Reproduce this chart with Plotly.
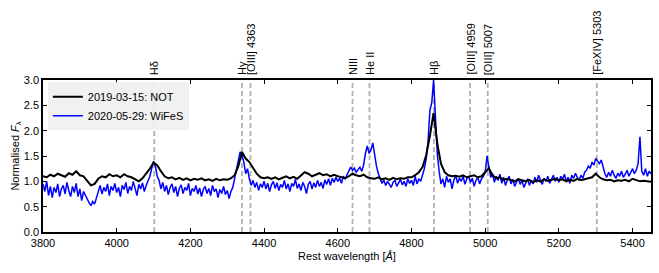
import plotly.graph_objects as go

# ---------------- data ----------------
# WiFeS spectrum (2020-05-29), sampled every 5 Å from 3800 Å
wifes_start = 3800
wifes_step = 5
wifes_flux = [
    0.95, 0.80, 1.00, 0.72, 0.90, 0.68, 0.88, 0.78, 0.95, 0.70,  # 3800
    0.85, 0.92, 0.75, 0.98, 0.82, 0.70, 0.90, 0.78, 0.96, 0.70,  # 3850
    0.85, 0.62, 0.80, 0.72, 0.65, 0.58, 0.52, 0.60, 0.55, 0.68,  # 3900
    0.80, 0.92, 0.75, 0.88, 0.80, 0.95, 0.72, 0.90, 0.82, 0.96,  # 3950
    0.78, 0.88, 0.70, 0.92, 0.84, 0.98, 0.76, 0.90, 0.82, 1.00,  # 4000
    0.86, 0.72, 0.94, 0.85, 0.97, 0.80, 0.92, 1.00, 1.10, 1.25,  # 4050
    1.40, 1.30, 1.10, 1.02, 0.85, 0.98, 0.80, 0.92, 0.74, 0.88,  # 4100
    0.95, 0.78, 0.90, 0.70, 0.86, 0.93, 0.76, 0.88, 0.82, 0.96,  # 4150
    0.72, 0.86, 0.80, 0.92, 0.75, 0.87, 0.70, 0.84, 0.90, 0.76,  # 4200
    0.86, 0.72, 0.92, 0.80, 0.85, 0.68, 0.84, 0.76, 0.90, 0.74,  # 4250
    0.82, 0.66, 0.80, 0.88, 1.05, 1.18, 1.40, 1.58, 1.52, 1.38,  # 4300
    1.15, 1.25, 1.05, 0.92, 1.02, 0.88, 0.98, 0.82, 0.95, 0.88,  # 4350
    1.00, 0.85, 0.96, 0.80, 0.93, 1.00, 0.86, 0.97, 0.82, 0.94,  # 4400
    0.88, 1.02, 0.85, 0.95, 0.80, 0.96, 0.90, 1.04, 0.86, 0.95,  # 4450
    0.82, 0.98, 0.90, 0.76, 0.94, 1.00, 0.85, 0.97, 0.88, 1.02,  # 4500
    0.90, 0.98, 0.86, 1.03, 0.94, 1.05, 0.92, 1.06, 0.98, 1.08,  # 4550
    1.00, 1.06, 0.96, 1.10, 1.05, 1.12, 1.20, 1.28, 1.22, 1.26,  # 4600
    1.18, 1.24, 1.28, 1.20, 1.32, 1.55, 1.70, 1.55, 1.62, 1.76,  # 4650
    1.50, 1.30, 1.15, 1.05, 0.96, 1.02, 0.92, 1.00, 0.95, 0.88,  # 4700
    0.98, 1.02, 0.90, 0.98, 1.04, 0.93, 1.00, 0.90, 1.05, 0.96,  # 4750
    1.02, 0.92, 1.10, 0.95, 1.05, 1.00, 1.12, 1.25, 1.45, 1.80,  # 4800
    2.40, 2.55, 3.00, 2.20, 1.55, 1.20, 0.95, 1.05, 0.88, 1.10,  # 4850
    0.98, 1.05, 0.85, 1.02, 1.12, 0.96, 1.06, 1.00, 1.10, 0.94,  # 4900
    1.05, 1.10, 0.98, 1.06, 0.90, 1.02, 1.08, 0.95, 1.05, 1.10,  # 4950
    1.18, 1.50, 1.25, 1.08, 1.15, 0.98, 1.10, 1.02, 1.14, 0.96,  # 5000
    1.08, 0.92, 1.02, 1.10, 0.95, 1.04, 0.90, 1.00, 1.06, 0.94,  # 5050
    1.02, 0.88, 0.98, 1.05, 0.92, 1.02, 0.95, 1.08, 0.98, 1.12,  # 5100
    1.02, 0.94, 1.06, 1.00, 1.10, 0.96, 1.04, 1.12, 1.00, 1.08,  # 5150
    0.98, 1.10, 1.04, 1.14, 1.00, 1.08, 0.96, 1.12, 1.06, 1.16,  # 5200
    1.08, 1.02, 1.12, 1.06, 1.18, 1.22, 1.30, 1.26, 1.38, 1.32,  # 5250
    1.45, 1.40, 1.35, 1.42, 1.25, 1.15, 1.08, 1.18, 1.10, 1.22,  # 5300
    1.12, 1.06, 1.16, 1.10, 1.20, 1.08, 1.14, 1.22, 1.10, 1.18,  # 5350
    1.25, 1.15, 1.22, 1.35, 1.88, 1.20, 1.12, 1.25, 1.10, 1.20,  # 5400
    1.15,                                                        # 5450
]

# NOT spectrum (2019-03-15), sampled every 10 Å from 3800 Å
not_start = 3800
not_step = 10
not_flux = [
    1.10, 1.08, 1.13, 1.10, 1.15, 1.12, 1.09, 1.16, 1.13, 1.20,  # 3800
    1.12, 1.10, 1.02, 0.92, 0.95, 1.05, 1.10, 1.08, 1.14, 1.10,  # 3900
    1.12, 1.08, 1.14, 1.10, 1.08, 1.04, 1.00, 1.06, 1.15, 1.25,  # 4000
    1.37, 1.32, 1.20, 1.10, 1.06, 1.08, 1.04, 1.07, 1.03, 1.06,  # 4100
    1.02, 1.05, 1.03, 1.06, 1.02, 1.04, 1.01, 1.05, 1.02, 1.04,  # 4200
    1.03, 1.06, 1.12, 1.30, 1.58, 1.45, 1.38, 1.25, 1.15, 1.08,  # 4300
    1.06, 1.08, 1.05, 1.08, 1.04, 1.07, 1.10, 1.06, 1.09, 1.05,  # 4400
    1.12, 1.18, 1.15, 1.10, 1.13, 1.16, 1.12, 1.14, 1.10, 1.13,  # 4500
    1.10, 1.08, 1.06, 1.10, 1.15, 1.12, 1.10, 1.13, 1.08, 1.06,  # 4600
    1.05, 1.08, 1.04, 1.06, 1.03, 1.07, 1.04, 1.06, 1.05, 1.08,  # 4700
    1.08, 1.12, 1.18, 1.28, 1.52, 1.90, 2.35, 1.75, 1.35, 1.18,  # 4800
    1.12, 1.10, 1.11, 1.09, 1.12, 1.08, 1.10, 1.12, 1.08, 1.10,  # 4900
    1.18, 1.26, 1.12, 1.06, 1.08, 1.03, 1.05, 1.02, 1.00, 1.04,  # 5000
    1.02, 1.00, 1.03, 0.98, 1.02, 1.00, 1.04, 1.01, 1.03, 1.05,  # 5100
    1.02, 1.04, 1.00, 1.03, 1.01, 1.05, 1.02, 1.04, 1.06, 1.08,  # 5200
    1.15, 1.08, 1.04, 1.02, 1.03, 1.00, 1.02, 1.01, 1.03, 1.00,  # 5300
    1.05, 1.02, 1.00, 1.01, 1.00, 0.99,                          # 5400
]

line_names = ["Hδ", "Hγ", "[OIII] 4363", "NIII", "He II", "Hβ",
              "[OIII] 4959", "[OIII] 5007", "[FeXIV] 5303"]
line_waves = [4102, 4340, 4363, 4640, 4686, 4861, 4959, 5007, 5303]

x_ticks = [3800, 4000, 4200, 4400, 4600, 4800, 5000, 5200, 5400]
y_ticks = [0.0, 0.5, 1.0, 1.5, 2.0, 2.5, 3.0]

wifes_wave = [wifes_start + wifes_step * i for i in range(len(wifes_flux))]
not_wave = [not_start + not_step * i for i in range(len(not_flux))]

FONT = "Liberation Sans, Arial, sans-serif"

fig = go.Figure()
fig.add_trace(go.Scatter(x=wifes_wave, y=wifes_flux, mode="lines",
                         name="2020-05-29: WiFeS", legendrank=2,
                         line=dict(color="#0000ff", width=1.5)))
fig.add_trace(go.Scatter(x=not_wave, y=not_flux, mode="lines",
                         name="2019-03-15: NOT", legendrank=1,
                         line=dict(color="#000000", width=2)))

for name, w in zip(line_names, line_waves):
    fig.add_shape(type="line", x0=w, x1=w, xref="x", y0=0, y1=1,
                  yref="y domain", layer="below",
                  line=dict(color="#b0b0b0", width=1.8, dash="5px,3px"))
    fig.add_annotation(x=w, xref="x", y=1, yref="y domain", text=name,
                       textangle=-90, showarrow=False, xanchor="center",
                       yanchor="bottom", yshift=3,
                       font=dict(family=FONT, size=11, color="black"))

fig.update_layout(
    width=659, height=273,
    margin=dict(l=43, r=8, t=80, b=41, autoexpand=False),
    paper_bgcolor="white", plot_bgcolor="white",
    font=dict(family=FONT, size=11, color="black"),
    showlegend=True,
    legend=dict(x=0.008, y=0.985, xanchor="left", yanchor="top",
                bgcolor="rgba(240,240,240,0.9)", borderwidth=0,
                font=dict(family=FONT, size=11), tracegroupgap=0,
                itemwidth=30),
)
fig.update_xaxes(range=[3800, 5450], tickvals=x_ticks,
                 ticktext=[str(v) for v in x_ticks], automargin=False,
                 showgrid=False, zeroline=False, showline=True,
                 linecolor="black", linewidth=1.5, mirror="ticks",
                 ticks="inside", ticklen=4, tickwidth=1.2, tickcolor="black",
                 tickfont=dict(family=FONT, size=11),
                 title=dict(text="Rest wavelength [<i>Å</i>]",
                            font=dict(family=FONT, size=11), standoff=4))
fig.update_yaxes(range=[0, 3], tickvals=y_ticks,
                 ticktext=[f"{v:.1f}" for v in y_ticks], automargin=False,
                 showgrid=False, zeroline=False, showline=True,
                 linecolor="black", linewidth=1.5, mirror="ticks",
                 ticks="inside", ticklen=4, tickwidth=1.2, tickcolor="black",
                 tickfont=dict(family=FONT, size=11),
                 title=dict(text="Normalised <i>F</i><sub>λ</sub>",
                            font=dict(family=FONT, size=11), standoff=2))

fig.write_html("out.html",
               config={"displayModeBar": False},
               post_script="document.body.style.margin='0px';"
                           "document.body.style.overflow='hidden';")
